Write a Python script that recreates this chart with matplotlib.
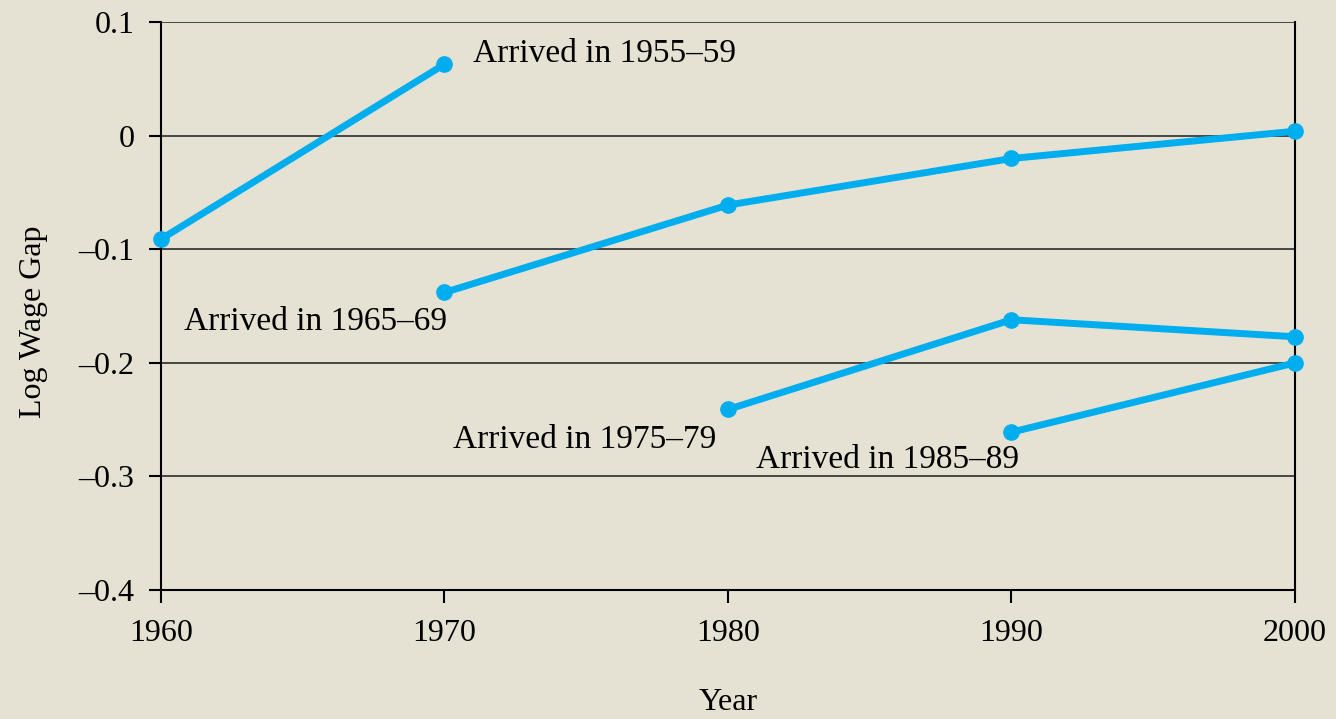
import matplotlib.pyplot as plt

# Datos
years_5559 = [1960, 1970]
gap_5559 = [-0.091, 0.063]
years_6569 = [1970, 1980, 1990, 2000]
gap_6569 = [-0.138, -0.061, -0.020, 0.004]
years_7579 = [1980, 1990, 2000]
gap_7579 = [-0.241, -0.162, -0.177]
years_8589 = [1990, 2000]
gap_8589 = [-0.261, -0.200]

x_ticks = [1960, 1970, 1980, 1990, 2000]
y_ticks = [0.1, 0, -0.1, -0.2, -0.3, -0.4]
y_labels = ['0.1', '0', '\u20130.1', '\u20130.2', '\u20130.3', '\u20130.4']

bg = '#e5e2d3'
blue = '#00aeef'

plt.rcParams['font.family'] = ['Liberation Serif', 'DejaVu Serif']

fig = plt.figure(figsize=(13.36, 7.19), dpi=100, facecolor=bg)
ax = fig.add_axes([0.1205, 0.1794, 0.8488, 0.7897], facecolor=bg)

for xs, ys in [(years_5559, gap_5559), (years_6569, gap_6569),
               (years_7579, gap_7579), (years_8589, gap_8589)]:
    ax.plot(xs, ys, color=blue, lw=5, marker='o', ms=11, zorder=5,
            solid_capstyle='round', clip_on=False)

# Etiquetas de cohortes
ax.text(1971, 0.072, 'Arrived in 1955\u201359', fontsize=24, va='center', ha='left')
ax.text(1960.8, -0.164, 'Arrived in 1965\u201369', fontsize=24, va='center', ha='left')
ax.text(1979.6, -0.268, 'Arrived in 1975\u201379', fontsize=24, va='center', ha='right')
ax.text(1981, -0.285, 'Arrived in 1985\u201389', fontsize=24, va='center', ha='left')

ax.set_xlim(1960, 2000)
ax.set_ylim(-0.4, 0.1)
ax.set_xticks(x_ticks)
ax.set_yticks(y_ticks)
ax.set_yticklabels(y_labels)
ax.tick_params(labelsize=23, length=9, width=1.5, color='black')
ax.tick_params(axis='y', pad=10)
ax.tick_params(axis='x', pad=12)

ax.yaxis.grid(True, color='#3a3a3a', lw=1.3)
ax.xaxis.grid(False)
ax.spines['top'].set_visible(False)
for s in ['left', 'bottom', 'right']:
    ax.spines[s].set_linewidth(1.5)

ax.set_xlabel('Year', fontsize=23)
ax.set_ylabel('Log Wage Gap', fontsize=23)
ax.xaxis.set_label_coords(0.5, -0.172)
ax.yaxis.set_label_coords(-0.1, 0.472)

plt.savefig('out.png', dpi=100, facecolor=bg)
